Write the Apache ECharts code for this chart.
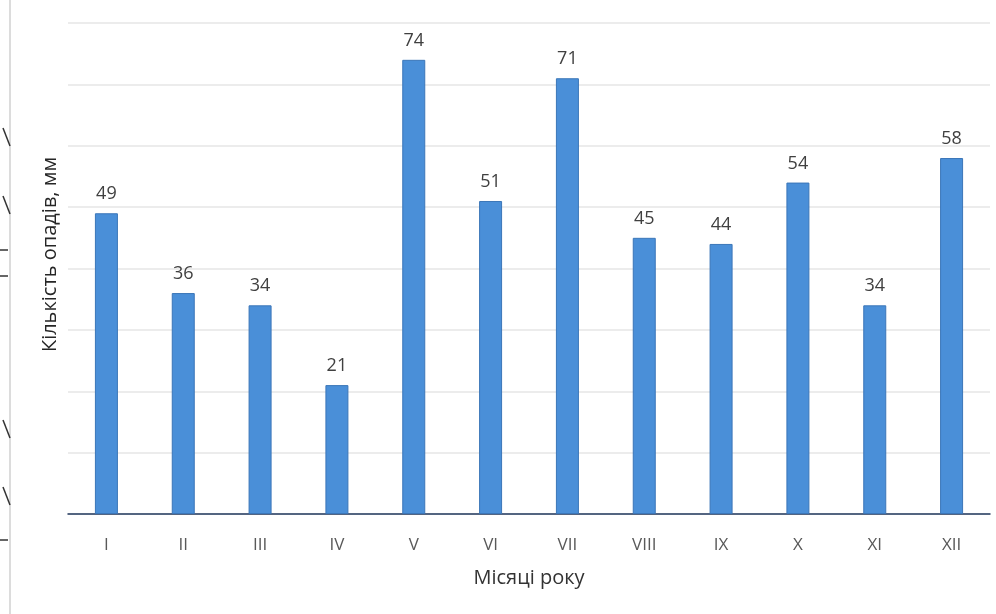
<!DOCTYPE html>
<html>
<head>
<meta charset="utf-8">
<script src="https://cdn.jsdelivr.net/npm/echarts@6/dist/echarts.min.js"></script>
<style>
  html, body { margin: 0; padding: 0; background: #ffffff; }
  #chart { width: 996px; height: 614px; }
</style>
</head>
<body>
<div id="chart"></div>
<script>
// Monthly precipitation (mm)
const months = ['I', 'II', 'III', 'IV', 'V', 'VI', 'VII', 'VIII', 'IX', 'X', 'XI', 'XII'];
const precipitation = [49, 36, 34, 21, 74, 51, 71, 45, 44, 54, 34, 58];
const yAxisTitle = 'Кількість опадів, мм';
const xAxisTitle = 'Місяці року';

const font = '"Open Sans", "Noto Sans", sans-serif';

const chart = echarts.init(document.getElementById('chart'), null, { renderer: 'canvas' });

// page-margin marks along the left edge
const marks = [
  [3, 128, 10, 146], [3, 196, 10, 214], [0, 250, 8, 250], [0, 276, 8, 276],
  [3, 420, 10, 438], [3, 487, 10, 505], [0, 540, 8, 540]
];

chart.setOption({
  animation: false,
  backgroundColor: '#ffffff',
  grid: { left: 68, right: 6, top: 23, bottom: 100 },
  xAxis: {
    type: 'category',
    data: months,
    axisLine: { lineStyle: { color: '#22385e', width: 1.5 } },
    axisTick: { show: false },
    axisLabel: { color: '#595959', fontFamily: font, fontSize: 17, margin: 23 },
    name: xAxisTitle,
    nameLocation: 'middle',
    nameGap: 54,
    nameTextStyle: { color: '#333333', fontFamily: font, fontSize: 20 }
  },
  yAxis: {
    type: 'value',
    min: 0,
    max: 80,
    interval: 10,
    axisLine: { show: false },
    axisTick: { show: false },
    axisLabel: { show: false },
    splitLine: { lineStyle: { color: '#e6e6e6', width: 1.5 } },
    name: yAxisTitle,
    nameLocation: 'middle',
    nameGap: 8,
    nameTextStyle: { color: '#262626', fontFamily: font, fontSize: 20, padding: [0, 0, 0, 28] }
  },
  series: [{
    type: 'bar',
    data: precipitation,
    barWidth: 23,
    itemStyle: { color: '#4a8fd8', borderColor: '#3b76b8', borderWidth: 1 },
    label: {
      show: true,
      position: 'top',
      distance: 10,
      color: '#404040',
      fontFamily: font,
      fontSize: 18
    }
  }],
  graphic: [
    { type: 'line', shape: { x1: 10, y1: 0, x2: 10, y2: 614 }, style: { stroke: '#dcdcdc', lineWidth: 2 } }
  ].concat(marks.map(m => ({
    type: 'line',
    shape: { x1: m[0], y1: m[1], x2: m[2], y2: m[3] },
    style: { stroke: '#333333', lineWidth: 1.5 }
  })))
});
</script>
</body>
</html>
